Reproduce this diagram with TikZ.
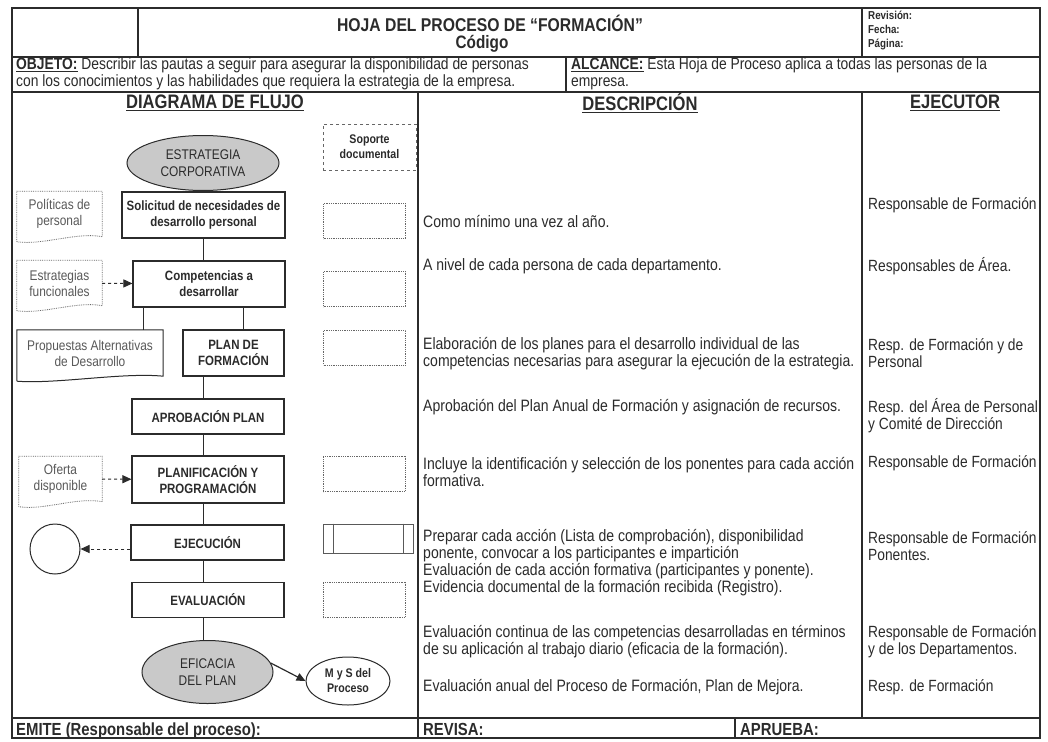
\documentclass[tikz,border=0pt]{standalone}
\usepackage{fontspec}
\setmainfont{Liberation Sans}[FakeStretch=0.85]
\usetikzlibrary{shapes.geometric,arrows.meta,positioning}

\definecolor{tinta}{HTML}{2B2B2B}
\definecolor{relleno}{HTML}{C9C9C9}

\tikzset{
    rule/.style={draw=tinta, line width=1.3pt},
    frame/.style={draw=tinta, line width=2pt},
    proc/.style={draw=tinta, line width=1.1pt, rectangle, align=center, text=tinta,
        font=\bfseries\fontsize{13.5}{16}\selectfont, inner sep=0pt},
    ovalo/.style={draw=tinta, line width=1pt, ellipse, align=center, text=tinta,
        inner sep=0pt},
    soporte/.style={draw=gray!80!black, densely dotted, line width=0.8pt, rectangle,
        minimum width=82pt, minimum height=35pt},
    docnode/.style={rectangle, align=center, text=black!65,
        font=\fontsize{14}{16}\selectfont, inner sep=0pt},
    docline/.style={draw=gray!80!black, densely dotted, line width=0.8pt},
    dasharrow/.style={draw=tinta, dashed, line width=1pt, -{Triangle[length=9pt,width=8pt]}},
    desc/.style={anchor=west, align=left, text=tinta, inner sep=0pt,
        font=\fontsize{16.5}{17.2}\selectfont},
    ejecutor/.style={desc, font=\fontsize{16.2}{17.2}\selectfont},
    cabecera/.style={font=\bfseries\fontsize{19.5}{22}\selectfont, text=tinta},
    pie/.style={anchor=base west, text=tinta, inner sep=0pt, font=\bfseries\fontsize{17.5}{20}\selectfont}
}

\begin{document}
\begin{tikzpicture}[x=1pt, y=-1pt]
    \fill[white] (0,0) rectangle (1048,741);
    \useasboundingbox (0,0) rectangle (1048,741);

    % marco de la hoja
    \draw[frame] (12,8) rectangle (1040,738);
    \draw[rule] (12,57) -- (1040,57);
    \draw[rule] (12,92) -- (1040,92);
    \draw[rule] (12,718) -- (1040,718);
    \draw[rule] (138,8) -- (138,57);
    \draw[rule] (862,8) -- (862,57);
    \draw[rule] (566,57) -- (566,92);
    \draw[rule] (418,92) -- (418,738);
    \draw[rule] (862,92) -- (862,718);
    \draw[rule] (735,718) -- (735,738);

    % cabecera
    \node[text=tinta, font=\bfseries\fontsize{18.5}{22}\selectfont] (titulo) at (490,23) {HOJA DEL PROCESO DE “FORMACIÓN”};
    \node[text=tinta, font=\bfseries\fontsize{18}{22}\selectfont] (codigo) at (482,44) {Código};
    \node[anchor=west, align=left, text=tinta, inner sep=0pt,
        font=\bfseries\fontsize{11.5}{14}\selectfont] (revision) at (868,31) {Revisión:\\Fecha:\\Página:};
    \node[desc, font=\fontsize{16.3}{16.5}\selectfont] (objeto) at (16,74)
        {\underline{\textbf{OBJETO:}} Describir las pautas a seguir para asegurar la disponibilidad de personas\\
         con los conocimientos y las habilidades que requiera la estrategia de la empresa.};
    \node[desc, font=\fontsize{16.3}{16.5}\selectfont] (alcance) at (571,74)
        {\underline{\textbf{ALCANCE:}} Esta Hoja de Proceso aplica a todas las personas de la\\
         empresa.};

    \node[cabecera] (hflujo) at (215,103) {\underline{DIAGRAMA DE FLUJO}};
    \node[cabecera] (hdesc) at (640,103) {\underline{DESCRIPCIÓN}};
    \node[cabecera] (hejec) at (955,103) {\underline{EJECUTOR}};

    % diagrama de flujo
    \node[ovalo, fill=relleno, minimum width=152pt, minimum height=55pt,
        font=\fontsize{14}{17}\selectfont] (estr) at (203,163) {ESTRATEGIA\\CORPORATIVA};
    \node[draw=gray!80!black, dashed, line width=0.8pt, minimum width=93pt, minimum height=46pt,
        align=center, text=tinta, font=\bfseries\fontsize{12.5}{15}\selectfont] (soporte) at (369.5,147) {Soporte\\documental};

    \node[proc, minimum width=163pt, minimum height=46pt] (sol) at (203.5,215) {Solicitud de necesidades de\\desarrollo personal};
    \node[docnode, minimum width=85pt, minimum height=45pt] (pol) at (59.5,214) {Políticas de\\personal};
    \node[soporte] (sop1) at (364.5,221) {};

    \node[proc, minimum width=152pt, minimum height=46pt] (comp) at (209,284) {Competencias a\\desarrollar};
    \node[docnode, minimum width=85pt, minimum height=45pt] (estf) at (59.5,283) {Estrategias\\funcionales};
    \node[soporte] (sop2) at (364.5,289) {};

    \node[docnode, minimum width=146pt, minimum height=46pt] (prop) at (90,353) {Propuestas Alternativas\\de Desarrollo};
    \node[proc, minimum width=101pt, minimum height=46pt] (plan) at (233.5,353) {PLAN DE\\FORMACIÓN};
    \node[soporte] (sop3) at (364.5,347.5) {};

    \node[proc, minimum width=152pt, minimum height=35pt] (apro) at (208,416.5) {APROBACIÓN PLAN};

    \node[proc, minimum width=152pt, minimum height=47pt] (plani) at (208,479.5) {PLANIFICACIÓN Y\\PROGRAMACIÓN};
    \node[docnode, minimum width=83pt, minimum height=45pt] (ofer) at (60.5,479) {Oferta\\disponible};
    \node[soporte] (sop4) at (364,474) {};

    \node[proc, minimum width=153pt, minimum height=35pt] (ejec) at (207.5,542.5) {EJECUCIÓN};
    \node[draw=tinta, line width=1pt, circle, minimum size=50pt] (circ) at (55,549) {};
    \node[draw=gray!70!black, line width=0.9pt, minimum width=90pt, minimum height=29pt] (pred) at (368,538.5) {};
    \draw[draw=gray!70!black, line width=0.9pt] ([xshift=11pt]pred.north west) -- ([xshift=11pt]pred.south west);
    \draw[draw=gray!70!black, line width=0.9pt] ([xshift=-10pt]pred.north east) -- ([xshift=-10pt]pred.south east);

    \node[proc, minimum width=152pt, minimum height=35pt] (eval) at (208,600) {EVALUACIÓN};
    \node[soporte] (sop5) at (364,600) {};

    \node[ovalo, fill=relleno, minimum width=131pt, minimum height=63pt,
        font=\fontsize{14}{17}\selectfont] (efic) at (207.5,672) {EFICACIA\\DEL PLAN};
    \node[ovalo, minimum width=84pt, minimum height=48pt,
        font=\bfseries\fontsize{12.5}{15}\selectfont] (mys) at (348,681) {M y S del\\Proceso};

    % contornos de documento
    \foreach \n in {pol,estf,ofer}
        \draw[docline] ([yshift=-5pt]\n.south west) -- (\n.north west) -- (\n.north east) -- (\n.south east)
            .. controls ([xshift=-25pt,yshift=5pt]\n.south east) and ([xshift=25pt,yshift=-9pt]\n.south west) .. ([yshift=-5pt]\n.south west);
    \draw[draw=tinta, line width=1pt] ([yshift=-5pt]prop.south west) -- (prop.north west) -- (prop.north east) -- (prop.south east)
        .. controls ([xshift=-40pt,yshift=4pt]prop.south east) and ([xshift=40pt,yshift=-8pt]prop.south west) .. ([yshift=-5pt]prop.south west);

    % conexiones
    \draw[rule, line width=1pt] (estr.south) -- (estr.south |- sol.north);
    \draw[rule, line width=1pt] (sol.south) -- (sol.south |- comp.north);
    \draw[rule, line width=1pt] ([xshift=-66pt]comp.south) -- ([xshift=-66pt]comp.south |- prop.north);
    \draw[rule, line width=1pt] ([xshift=34pt]comp.south) -- ([xshift=34pt]comp.south |- plan.north);
    \foreach \a/\b in {plan/apro, apro/plani, plani/ejec, ejec/eval, eval/efic}
        \draw[rule, line width=1pt] (sol.south |- \a.south) -- (sol.south |- \b.north);

    \draw[dasharrow] (estf) -- (comp);
    \draw[dasharrow] (ofer) -- (plani);
    \draw[dasharrow] (ejec.west |- circ.east) -- (circ.east);
    \draw[draw=tinta, line width=1.2pt, -{Triangle[length=9pt,width=8pt]}] (efic.8) -- (mys.west);

    % descripcion
    \node[desc] (d1) at (423,222) {Como mínimo una vez al año.};
    \node[desc] (d2) at (423,266) {A nivel de cada persona de cada departamento.};
    \node[desc] (d3) at (423,353.5) {Elaboración de los planes para el desarrollo individual de las\\competencias necesarias para asegurar la ejecución de la estrategia.};
    \node[desc] (d4) at (423,407) {Aprobación del Plan Anual de Formación y asignación de recursos.};
    \node[desc] (d5) at (423,472) {Incluye la identificación y selección de los ponentes para cada acción\\formativa.};
    \node[desc] (d6) at (423,562.5) {Preparar cada acción (Lista de comprobación), disponibilidad\\ponente, convocar a los participantes e impartición\\Evaluación de cada acción formativa (participantes y ponente).\\Evidencia documental de la formación recibida (Registro).};
    \node[desc] (d7) at (423,641.5) {Evaluación continua de las competencias desarrolladas en términos\\de su aplicación al trabajo diario (eficacia de la formación).};
    \node[desc] (d8) at (423,687) {Evaluación anual del Proceso de Formación, Plan de Mejora.};

    % ejecutor
    \node[ejecutor] (e1) at (868,205) {Responsable de Formación};
    \node[ejecutor] (e2) at (868,266) {Responsables de Área.};
    \node[ejecutor] (e3) at (868,353.5) {Resp. de Formación y de\\Personal};
    \node[ejecutor] (e4) at (868,415.5) {Resp. del Área de Personal\\y Comité de Dirección};
    \node[ejecutor] (e5) at (868,463) {Responsable de Formación};
    \node[ejecutor] (e6) at (868,546) {Responsable de Formación\\Ponentes.};
    \node[ejecutor] (e7) at (868,641.5) {Responsable de Formación\\y de los Departamentos.};
    \node[ejecutor] (e8) at (868,687) {Resp. de Formación};

    % pie
    \node[pie] (emite) at (16,735) {EMITE (Responsable del proceso):};
    \node[pie] (revisa) at (423,735) {REVISA:};
    \node[pie] (aprueba) at (740,735) {APRUEBA:};
\end{tikzpicture}
\end{document}
